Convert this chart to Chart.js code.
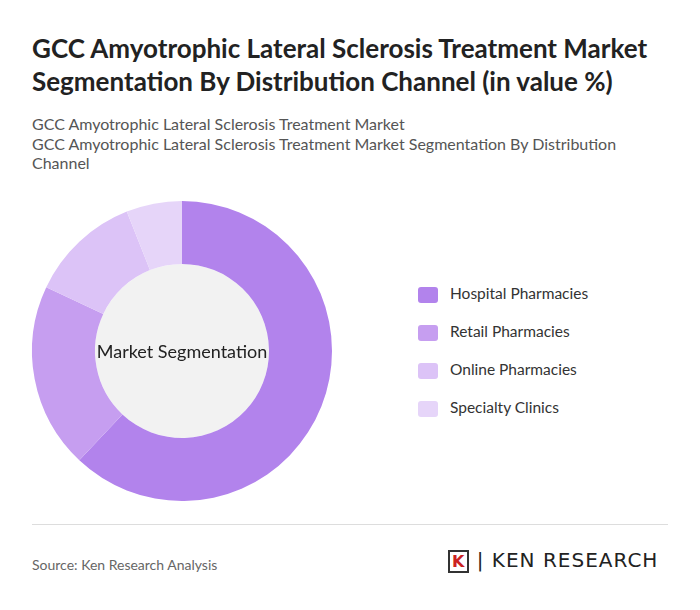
<!DOCTYPE html>
<html><head><meta charset="utf-8">
<script src="https://cdn.jsdelivr.net/npm/chart.js@4"></script>
<style>
body{margin:0;width:700px;height:610px;background:#fff;font-family:Lato,"Open Sans",sans-serif;position:relative;overflow:hidden}
h1{position:absolute;left:32px;top:32px;margin:0;font-size:26px;line-height:33px;font-weight:700;color:#222;width:650px}
.sub{position:absolute;left:32px;color:#555;font-size:16px;line-height:19px;width:600px}
#wrap{position:absolute;left:17px;top:191px;width:330px;height:320px}
#center{position:absolute;left:17px;top:340px;width:330px;text-align:center;font-size:18px;color:#222}
.leg{position:absolute;left:418px;font-size:15.5px;color:#333}
.leg span{display:inline-block;width:20px;height:16px;border-radius:3px;vertical-align:middle;margin-right:12px}
hr{position:absolute;left:32px;top:524px;width:636px;border:0;border-top:1px solid #ddd;margin:0}
.src{position:absolute;left:32px;top:556px;font-size:14px;color:#666}
.logo{position:absolute;left:448px;top:548px;font-size:20px;letter-spacing:1px;color:#222;font-family:"DejaVu Sans",sans-serif;white-space:nowrap}
</style></head><body>
<h1>GCC Amyotrophic Lateral Sclerosis Treatment Market Segmentation By Distribution Channel (in value %)</h1>
<div class="sub" style="top:114px">GCC Amyotrophic Lateral Sclerosis Treatment Market</div>
<div class="sub" style="top:134px">GCC Amyotrophic Lateral Sclerosis Treatment Market Segmentation By Distribution Channel</div>
<div id="wrap"><canvas id="c"></canvas></div>
<div id="center">Market Segmentation</div>
<div id="legend"></div>
<hr>
<div class="src">Source: Ken Research Analysis</div>
<div class="logo"><b style="color:#c22;border:2px solid #333;padding:0 2px;font-size:16px">K</b> | KEN RESEARCH</div>
<script>
const categories = ["Hospital Pharmacies", "Retail Pharmacies", "Online Pharmacies", "Specialty Clinics"];
const shares = [62, 20, 12, 6];
const colors = ["#b283ec", "#c69ef0", "#dcc3f7", "#e6d5f9"];

let html = "";
categories.forEach(function (name, i) {
    html += '<div class="leg" style="top:' + (284 + i * 38) + 'px"><span style="background:' + colors[i] + '"></span>' + name + '</div>';
});
document.getElementById("legend").innerHTML = html;

new Chart(document.getElementById("c"), {
    type: "doughnut",
    data: { labels: categories, datasets: [{ data: shares, backgroundColor: colors, borderWidth: 0 }] },
    options: {
        responsive: true, maintainAspectRatio: false, animation: false,
        cutout: "58%",
        layout: { padding: 10 },
        plugins: { legend: { display: false }, tooltip: { enabled: false } }
    },
    plugins: [{
        id: "hole",
        beforeDatasetsDraw(chart) {
            const a = chart.getDatasetMeta(0).data[0];
            const ctx = chart.ctx;
            ctx.save(); ctx.fillStyle = "#f2f2f2";
            ctx.beginPath(); ctx.arc(a.x, a.y, a.innerRadius, 0, Math.PI * 2); ctx.fill(); ctx.restore();
        }
    }]
});
</script>
</body></html>
